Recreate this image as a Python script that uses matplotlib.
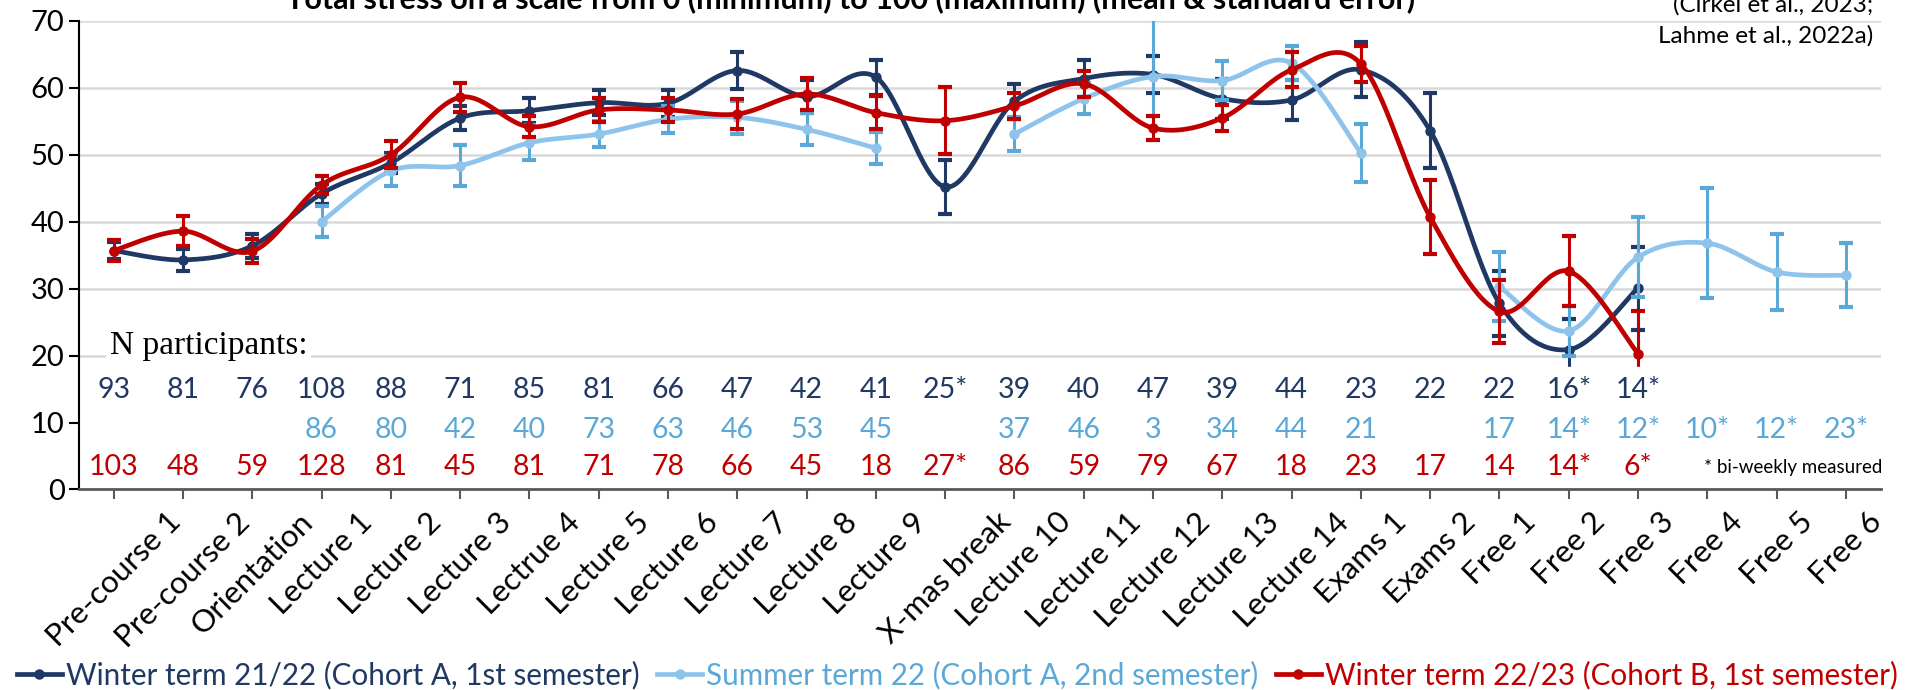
import numpy as np
import matplotlib
matplotlib.use('Agg')
import matplotlib.pyplot as plt
import matplotlib.transforms as mtransforms
from matplotlib.lines import Line2D

plt.rcParams['font.family'] = ['Lato', 'DejaVu Sans']

categories = ['Pre-course 1', 'Pre-course 2', 'Orientation', 'Lecture 1', 'Lecture 2',
              'Lecture 3', 'Lectrue 4', 'Lecture 5', 'Lecture 6', 'Lecture 7', 'Lecture 8',
              'Lecture 9', 'X-mas break', 'Lecture 10', 'Lecture 11', 'Lecture 12',
              'Lecture 13', 'Lecture 14', 'Exams 1', 'Exams 2', 'Free 1', 'Free 2',
              'Free 3', 'Free 4', 'Free 5', 'Free 6']

nan = np.nan
# Winter term 21/22 (Cohort A, 1st semester)
w21_mean = [35.7, 34.3, 36.4, 44.2, 48.8, 55.5, 56.6, 57.8, 57.7, 62.6, 58.7, 61.6, 45.2,
            58.0, 61.4, 62.0, 58.4, 58.2, 62.7, 53.6, 27.8, 20.9, 30.1, nan, nan, nan]
w21_se = [1.3, 1.7, 1.8, 1.5, 1.5, 1.8, 1.9, 1.9, 2.0, 2.7, 2.5, 2.6, 4.0,
          2.6, 2.8, 2.8, 3.0, 3.0, 4.1, 5.6, 4.8, 4.6, 6.2, nan, nan, nan]
# Summer term 22 (Cohort A, 2nd semester)
s22_mean = [nan, nan, nan, 40.0, 47.6, 48.4, 51.8, 53.1, 55.3, 55.6, 53.8, 51.0, nan,
            53.1, 58.4, 61.7, 61.1, 63.7, 50.3, nan, 30.3, 23.7, 34.7, 36.8, 32.5, 32.0]
s22_se = [nan, nan, nan, 2.3, 2.3, 3.1, 2.6, 1.9, 2.0, 2.5, 2.4, 2.4, nan,
          2.6, 2.3, 9.5, 2.9, 2.5, 4.3, nan, 5.2, 3.7, 6.0, 8.2, 5.7, 4.8]
# Winter term 22/23 (Cohort B, 1st semester)
w22_mean = [35.7, 38.6, 35.6, 45.5, 50.0, 58.6, 54.2, 56.7, 56.7, 56.1, 59.1, 56.3, 55.1,
            57.3, 60.6, 54.0, 55.5, 62.7, 63.6, 40.7, 26.6, 32.6, 20.3, nan, nan, nan]
w22_se = [1.6, 2.2, 1.8, 1.3, 2.0, 2.2, 1.6, 1.8, 1.8, 2.2, 2.4, 2.5, 5.0,
          1.9, 1.9, 1.8, 2.0, 2.6, 2.7, 5.5, 4.7, 5.2, 6.3, nan, nan, nan]

n_w21 = ['93', '81', '76', '108', '88', '71', '85', '81', '66', '47', '42', '41', '25*',
         '39', '40', '47', '39', '44', '23', '22', '22', '16*', '14*', '', '', '']
n_s22 = ['', '', '', '86', '80', '42', '40', '73', '63', '46', '53', '45', '',
         '37', '46', '3', '34', '44', '21', '', '17', '14*', '12*', '10*', '12*', '23*']
n_w22 = ['103', '48', '59', '128', '81', '45', '81', '71', '78', '66', '45', '18', '27*',
         '86', '59', '79', '67', '18', '23', '17', '14', '14*', '6*', '', '', '']

labels = ['Winter term 21/22 (Cohort A, 1st semester)',
          'Summer term 22 (Cohort A, 2nd semester)',
          'Winter term 22/23 (Cohort B, 1st semester)']

dark = '#1F3864'
light_line = '#8EC4EC'
light_err = '#5AA8D8'
red = '#C00000'


def smooth(xs, ys, n=30):
    # catmull-rom style smoothing like excel "smoothed line"
    out_x, out_y = [], []
    pts = list(zip(xs, ys))
    for i in range(len(pts) - 1):
        p0 = pts[i - 1] if i > 0 else pts[i]
        p1 = pts[i]
        p2 = pts[i + 1]
        p3 = pts[i + 2] if i + 2 < len(pts) else pts[i + 1]
        c1 = (p1[0] + (p2[0] - p0[0]) / 6, p1[1] + (p2[1] - p0[1]) / 6)
        c2 = (p2[0] - (p3[0] - p1[0]) / 6, p2[1] - (p3[1] - p1[1]) / 6)
        t = np.linspace(0, 1, n)
        bx = (1-t)**3*p1[0] + 3*(1-t)**2*t*c1[0] + 3*(1-t)*t**2*c2[0] + t**3*p2[0]
        by = (1-t)**3*p1[1] + 3*(1-t)**2*t*c1[1] + 3*(1-t)*t**2*c2[1] + t**3*p2[1]
        out_x.extend(bx)
        out_y.extend(by)
    return out_x, out_y


def draw_series(ax, mean, se, lc, ec, z):
    x = np.arange(len(mean))
    m = np.array(mean, dtype=float)
    ok = ~np.isnan(m)
    # split into runs (excel leaves gaps for empty cells)
    runs, cur = [], []
    for i in range(len(m)):
        if ok[i]:
            cur.append(i)
        elif cur:
            runs.append(cur)
            cur = []
    if cur:
        runs.append(cur)
    for r in runs:
        if len(r) > 1:
            sx, sy = smooth(x[r], m[r])
            ax.plot(sx, sy, color=lc, lw=3.4, zorder=z, solid_capstyle='round')
    ax.errorbar(x[ok], m[ok], yerr=np.array(se, dtype=float)[ok], fmt='none',
                ecolor=ec, elinewidth=2.2, capsize=5, capthick=3, zorder=z)
    ax.plot(x[ok], m[ok], 'o', color=lc, ms=6.5, zorder=z + 0.5)


fig = plt.figure(figsize=(19.15, 6.9), dpi=100)
ax = fig.add_axes([0.0413, 0.2906, 0.9407, 0.679])

ax.set_xlim(-0.5, len(categories) - 0.5)
ax.set_ylim(0, 70)
for g in range(20, 71, 10):
    ax.axhline(g, color='#D9D9D9', lw=1.8, zorder=0)

draw_series(ax, w21_mean, w21_se, dark, dark, 3)
draw_series(ax, s22_mean, s22_se, light_line, light_err, 4)
draw_series(ax, w22_mean, w22_se, red, red, 5)

# white text boxes of the N rows hide the lines below ~18
ax.axhspan(0, 18.3, color='white', zorder=6)

ax.text(-0.06, 21.5, 'N participants:', family='Liberation Serif', fontsize=24,
        va='center', ha='left', zorder=7,
        bbox=dict(facecolor='white', edgecolor='none', pad=3))
for i in range(len(categories)):
    ax.text(i, 14.8, n_w21[i], color=dark, fontsize=20.5, ha='center', va='center', zorder=7)
    ax.text(i, 8.9, n_s22[i], color=light_err, fontsize=20.5, ha='center', va='center', zorder=7)
    ax.text(i, 3.3, n_w22[i], color=red, fontsize=20.5, ha='center', va='center', zorder=7)
ax.text(len(categories) - 0.48, 3.3, '* bi-weekly measured', fontsize=13.5,
        ha='right', va='center', zorder=7)

ax.set_yticks(range(0, 71, 10))
ax.set_xticks(range(len(categories)))
ax.set_xticklabels(categories, rotation=45, ha='center', va='top', fontsize=22.5)
shift = mtransforms.ScaledTranslation(-34 / 100, 0, fig.dpi_scale_trans)
for lab in ax.get_xticklabels():
    lab.set_transform(lab.get_transform() + shift)
ax.tick_params(axis='y', labelsize=21, length=7, width=1.5)
ax.tick_params(axis='x', length=7, width=1.5, color='#595959', pad=6)
ax.spines['top'].set_visible(False)
ax.spines['right'].set_visible(False)
ax.spines['left'].set_linewidth(1.5)
ax.spines['bottom'].set_linewidth(2)
ax.spines['bottom'].set_color('#595959')
for s in ax.spines.values():
    s.set_zorder(10)

fig.text(0.444, 1 - 8 / 690, 'Total stress on a scale from 0 (minimum) to 100 (maximum) '
         '(mean & standard error)', ha='center', va='baseline', fontsize=22,
         fontweight='bold')
fig.text(0.978, 1 - 12 / 690, '(Cirkel et al., 2023;', ha='right', va='baseline',
         fontsize=17.5)
fig.text(0.978, 1 - 43 / 690, 'Lahme et al., 2022a)', ha='right', va='baseline',
         fontsize=17.5)

handles = [Line2D([], [], color=c, lw=3.4, marker='o', ms=6.5) for c in (dark, light_line, red)]
leg = fig.legend(handles, labels, loc='center', bbox_to_anchor=(0.5, 1 - 675 / 690),
                 ncol=3, frameon=False, fontsize=21.3, handlelength=1.5,
                 handletextpad=0.15, columnspacing=0.6)
for t, c in zip(leg.get_texts(), (dark, light_err, red)):
    t.set_color(c)

fig.savefig('out.png', dpi=100)
